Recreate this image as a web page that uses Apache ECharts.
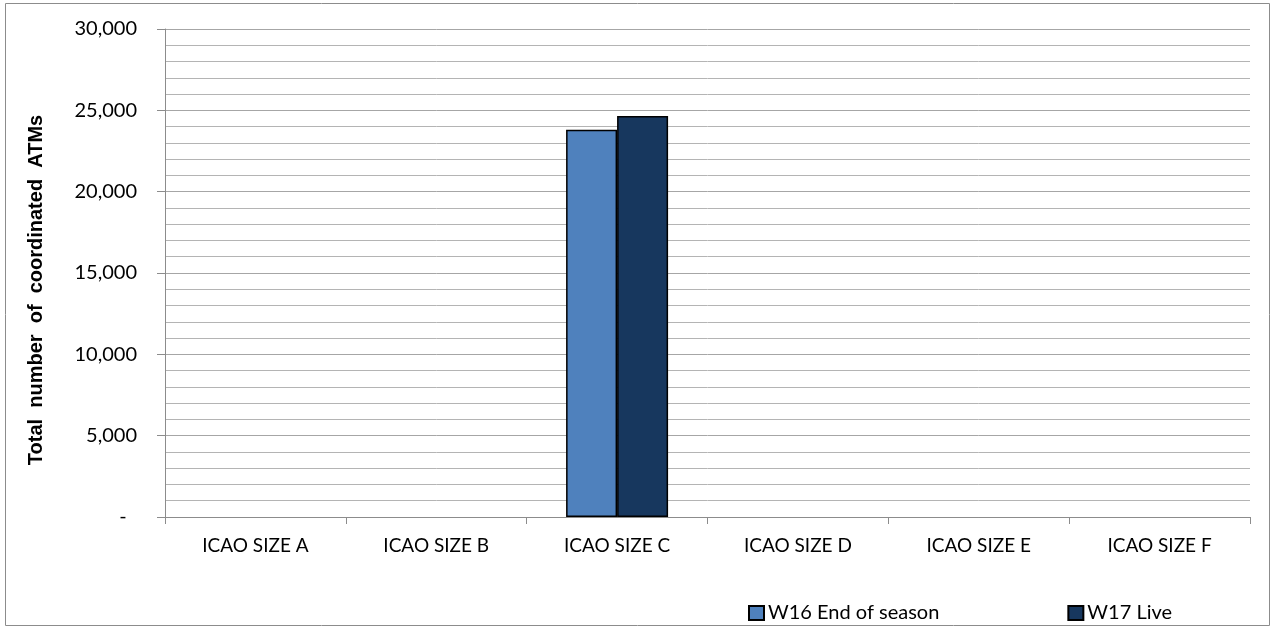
<!DOCTYPE html>
<html>
<head>
<meta charset="utf-8">
<script src="https://cdn.jsdelivr.net/npm/echarts@6/dist/echarts.min.js"></script>
<style>
  html, body { margin: 0; padding: 0; background: #fff; }
  #main { width: 1272px; height: 628px; }
</style>
</head>
<body>
<div id="main"></div>
<script>
  // categories and values
  const categories = ['ICAO SIZE A', 'ICAO SIZE B', 'ICAO SIZE C', 'ICAO SIZE D', 'ICAO SIZE E', 'ICAO SIZE F'];
  const w16Values = [null, null, 23800, null, null, null];
  const w17Values = [null, null, 24650, null, null, null];
  const seriesNames = ['W16 End of season', 'W17 Live'];

  const font = 'Lato, "Liberation Sans", sans-serif';
  let chart = echarts.init(document.getElementById('main'));

  let option = {
    animation: false,
    textStyle: { fontFamily: font },
    graphic: [{
      type: 'rect',
      shape: { x: 5.5, y: 3.5, width: 1264, height: 622 },
      style: { fill: 'none', stroke: '#8c8c8c', lineWidth: 1 },
      silent: true
    }],
    legend: {
      data: seriesNames,
      left: 743,
      top: 598,
      itemWidth: 15,
      itemHeight: 14,
      itemGap: 128,
      icon: 'rect',
      textStyle: { fontSize: 20, color: '#000', fontFamily: font, padding: [0, 0, 0, -1] }
    },
    grid: { left: 165, right: 22, top: 29, bottom: 111, containLabel: false },
    xAxis: {
      type: 'category',
      data: categories,
      axisLine: { lineStyle: { color: '#8c8c8c', width: 1 } },
      axisTick: { show: true, length: 7, lineStyle: { color: '#8c8c8c' } },
      axisLabel: { color: '#000', fontSize: 19, margin: 19, fontFamily: font }
    },
    yAxis: {
      type: 'value',
      min: 0,
      max: 30000,
      interval: 5000,
      name: 'Total  number  of  coordinated  ATMs',
      nameLocation: 'middle',
      nameGap: 119,
      nameTextStyle: {
        fontWeight: 'bold', fontSize: 20, color: '#000',
        fontFamily: '"Liberation Sans", Arial, sans-serif',
        padding: [0, 34, 0, 0]
      },
      axisLine: { show: true, lineStyle: { color: '#8c8c8c' } },
      axisTick: { show: true, length: 8, lineStyle: { color: '#8c8c8c' } },
      axisLabel: {
        color: '#000', fontSize: 20, margin: 28, fontFamily: font,
        // excel accounting style: zero shown as a dash
        formatter: function (v) { return v === 0 ? '-  ' : v.toLocaleString('en-US'); }
      },
      splitLine: { show: true, lineStyle: { color: '#a6a6a6', width: 1 } },
      minorTick: { show: false, splitNumber: 5 },
      minorSplitLine: { show: true, lineStyle: { color: '#b4b4b4', width: 1 } }
    },
    series: [
      {
        name: seriesNames[0],
        type: 'bar',
        data: w16Values,
        barWidth: 51,
        barGap: '0%',
        itemStyle: { color: '#4f81bd', borderColor: '#000', borderWidth: 1.5 }
      },
      {
        name: seriesNames[1],
        type: 'bar',
        data: w17Values,
        barWidth: 51,
        itemStyle: { color: '#17375e', borderColor: '#000', borderWidth: 1.5 }
      }
    ]
  };

  chart.setOption(option);
</script>
</body>
</html>
